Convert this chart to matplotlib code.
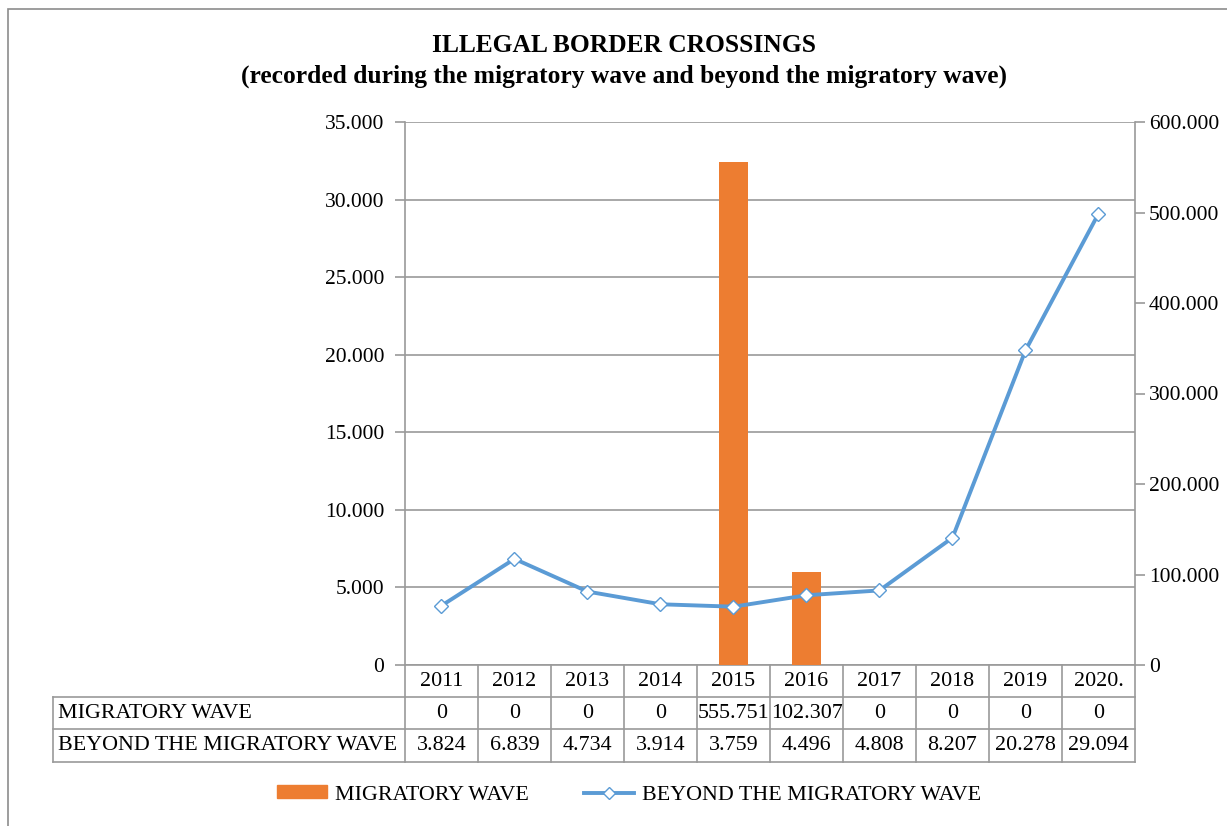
import matplotlib
matplotlib.use('Agg')
import matplotlib.pyplot as plt
import matplotlib.transforms as mtransforms
from matplotlib.patches import Rectangle

plt.rcParams['font.family'] = ['Liberation Serif', 'DejaVu Serif']

years = ['2011', '2012', '2013', '2014', '2015', '2016', '2017', '2018', '2019', '2020.']
migratory = [0, 0, 0, 0, 555751, 102307, 0, 0, 0, 0]
beyond = [3824, 6839, 4734, 3914, 3759, 4496, 4808, 8207, 20278, 29094]
left_ticks = [0, 5000, 10000, 15000, 20000, 25000, 30000, 35000]
right_ticks = [0, 100000, 200000, 300000, 400000, 500000, 600000]

orange = '#ED7D31'
blue = '#5B9BD5'
gray = '#9A9A9A'
fs = 15.8
tfs = 15.5


def fmt(v):
    return f'{v:,}'.replace(',', '.')


W, H = 1227, 826
fig = plt.figure(figsize=(W / 100, H / 100), dpi=100)
fig.patch.set_facecolor('white')

# outer chart border (left and top visible)
fig.add_artist(Rectangle((8 / W, -0.1), 1.2, (H - 9) / H + 0.1, transform=fig.transFigure,
                         fill=False, edgecolor='#8C8C8C', linewidth=1.2))

x0, x1, y0, y1 = 405, 1135, 122, 665
rect = [x0 / W, (H - y1) / H, (x1 - x0) / W, (y1 - y0) / H]
ax = fig.add_axes(rect)
ax2 = ax.twinx()
ax3 = ax.twinx()

xs = list(range(len(years)))

# base axis: left scale + gridlines
ax.set_xlim(-0.5, len(years) - 0.5)
ax.set_ylim(0, 35000)
ax.set_yticks(left_ticks)
ax.set_yticklabels([fmt(v) for v in left_ticks])
ax.yaxis.grid(True, color=gray, linewidth=1.2)
ax.set_xticks([])

# bars on the right axis
ax2.bar(xs, migratory, width=0.4, color=orange, zorder=2)
ax2.set_ylim(0, 600000)
ax2.set_yticks(right_ticks)
ax2.set_yticklabels([fmt(v) for v in right_ticks])

# line on left scale, drawn above bars
ax3.plot(xs, beyond, color=blue, linewidth=2.8, marker='D', markersize=7,
         markerfacecolor='white', markeredgecolor=blue, markeredgewidth=1.0)
ax3.set_ylim(ax.get_ylim())
ax3.set_yticks([])

for a in (ax, ax2, ax3):
    a.set_xlim(-0.5, len(years) - 0.5)
    for s in a.spines.values():
        s.set_visible(False)
ax.spines['left'].set_visible(True)
ax.spines['bottom'].set_visible(True)
ax2.spines['right'].set_visible(True)
for s in (ax.spines['left'], ax.spines['bottom'], ax2.spines['right']):
    s.set_color(gray)
    s.set_linewidth(1.2)

ax.tick_params(axis='y', direction='out', length=7, width=1.2, color=gray, pad=8, labelsize=tfs)
ax2.tick_params(axis='y', direction='out', length=7, width=1.2, color=gray, pad=3, labelsize=tfs)

# data table under the plot
trans = mtransforms.blended_transform_factory(ax.transData, ax.transAxes)
ph = (y1 - y0)
r1, r2, r3 = -(697 - y1) / ph, -(729 - y1) / ph, -(762 - y1) / ph
lx = -0.5 - (x0 - 53) / (x1 - x0) * len(years)
n = len(years)
lk = dict(color=gray, linewidth=1.2, transform=trans, clip_on=False)
ax.plot([-0.5, n - 0.5], [r1, r1], **lk)
ax.plot([lx, -0.5], [r1, r1], **lk)
ax.plot([lx, n - 0.5], [r2, r2], **lk)
ax.plot([lx, n - 0.5], [r3, r3], **lk)
ax.plot([lx, lx], [r1, r3], **lk)
for i in range(n + 1):
    ax.plot([i - 0.5, i - 0.5], [0, r3], **lk)

for i, y in enumerate(years):
    ax.text(i, (0 + r1) / 2, y, transform=trans, ha='center', va='center', fontsize=fs)
    ax.text(i, (r1 + r2) / 2, fmt(migratory[i]), transform=trans, ha='center', va='center', fontsize=fs)
    ax.text(i, (r2 + r3) / 2, fmt(beyond[i]), transform=trans, ha='center', va='center', fontsize=fs)
ax.text(lx + 0.07, (r1 + r2) / 2, 'MIGRATORY WAVE', transform=trans, ha='left', va='center', fontsize=fs)
ax.text(lx + 0.07, (r2 + r3) / 2, 'BEYOND THE MIGRATORY WAVE', transform=trans, ha='left', va='center', fontsize=fs)

# title
fig.text(624 / W, 1 - 45 / H, 'ILLEGAL BORDER CROSSINGS', ha='center', va='center',
         fontsize=18.4, fontweight='bold')
fig.text(624 / W, 1 - 76 / H, '(recorded during the migratory wave and beyond the migratory wave)',
         ha='center', va='center', fontsize=18.4, fontweight='bold')

# legend
h1 = Rectangle((0, 0), 1, 1, color=orange)
h2, = ax3.plot([], [], color=blue, linewidth=2.8, marker='D', markersize=6,
               markerfacecolor='white', markeredgecolor=blue, markeredgewidth=1.0)
fig.legend([h1, h2], ['MIGRATORY WAVE', 'BEYOND THE MIGRATORY WAVE'], ncol=2,
           loc='center', bbox_to_anchor=(629 / W, 1 - 795 / H), frameon=False,
           fontsize=fs, handlelength=2.3, handleheight=0.5, handletextpad=0.35,
           columnspacing=2.5)

fig.savefig('out.png', dpi=100)
